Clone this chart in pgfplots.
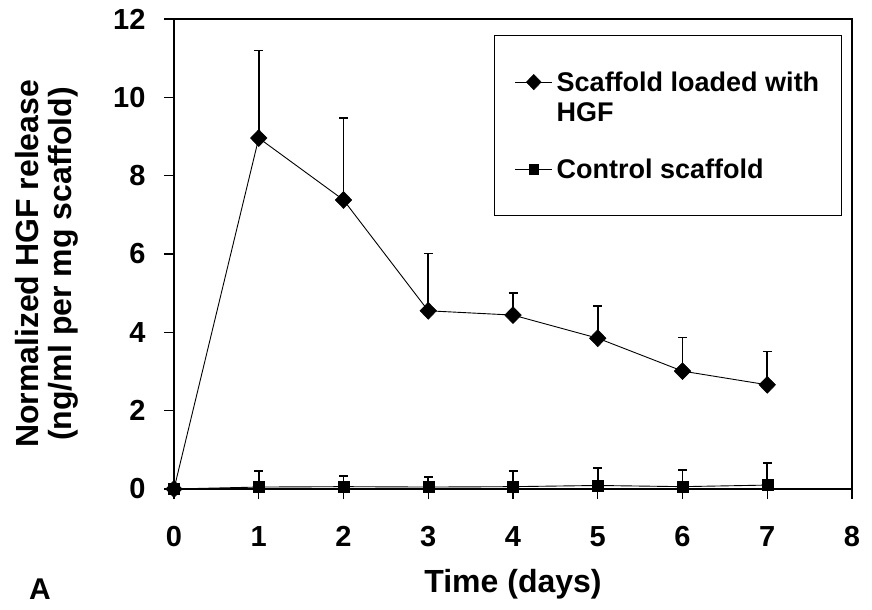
\documentclass[border=0pt]{standalone}
\usepackage{pgfplots}
\pgfplotsset{compat=1.18}
\usepackage{fontspec}
\setmainfont{Liberation Sans}
\pgfplotstableread{
x y e
0 0 0
1 8.96 2.24
2 7.38 2.09
3 4.55 1.46
4 4.44 0.57
5 3.85 0.82
6 3.01 0.86
7 2.66 0.85
}\scaffold
\pgfplotstableread{
x y e
0 0 0
1 0.05 0.41
2 0.06 0.27
3 0.05 0.25
4 0.06 0.40
5 0.09 0.44
6 0.06 0.42
7 0.10 0.56
}\control
\begin{document}
\begin{tikzpicture}
\begin{axis}[
  name=ax,
  scale only axis,
  width=678pt, height=470pt,
  xmin=0, xmax=8, ymin=0, ymax=12,
  xtick={0,1,...,8}, ytick={0,2,...,12},
  tick pos=left,
  tick align=outside,
  major tick length=10pt,
  tick style={line width=1.2pt, black},
  axis line style={line width=1.2pt, black},
  clip=false,
  /pgf/number format/assume math mode=true,
  tick label style={font=\fontsize{29}{34}\selectfont\bfseries},
  xticklabel shift=24pt,
  yticklabel shift=15pt,
  label style={font=\fontsize{32}{33}\selectfont\bfseries},
  xlabel={Time (days)},
  xlabel style={at={(axis description cs:0.5,-0.221)}, anchor=base},
  ylabel={Normalized HGF release\\(ng/ml per mg scaffold)},
  ylabel style={align=center, at={(axis description cs:-0.188,0.479)}, anchor=center},
  legend style={at={(axis description cs:0.985,0.966)}, anchor=north east,
    draw=black, line width=1.2pt,
    font=\fontsize{27}{30}\selectfont\bfseries,
    inner xsep=20pt, inner ysep=34pt,
    row sep=62pt, column sep=2pt,
    cells={anchor=west}},
  legend image code/.code={
    \draw[#1, mark repeat=2, mark phase=2, every mark/.append style={scale=0.9}]
      plot coordinates {(0pt,0pt)(18.5pt,0pt)(37pt,0pt)};
  },
]
\addplot[black, line width=0.9pt, mark=diamond*, mark size=8.5pt,
  mark options={solid, fill=black, xscale=1.3, line width=0.5pt},
  error bars/.cd, y dir=plus, y explicit,
  error bar style={line width=1.6pt, black},
  error mark options={rotate=90, black, mark size=4.5pt, line width=1.6pt}]
  table[x=x, y=y, y error=e] {\scaffold};
\addlegendentry{\rlap{\smash{\raisebox{-30pt}{HGF}}}Scaffold loaded with}
\addplot[black, line width=0.9pt, mark=square*, mark size=5.5pt,
  mark options={solid, fill=black, line width=0.5pt},
  error bars/.cd, y dir=plus, y explicit,
  error bar style={line width=1.6pt, black},
  error mark options={rotate=90, black, mark size=4.5pt, line width=1.6pt}]
  table[x=x, y=y, y error=e] {\control};
\addlegendentry{Control scaffold}
\end{axis}
\node[anchor=north west, inner sep=0pt, font=\fontsize{30}{30}\selectfont\bfseries]
  at ([shift={(-145pt,-90pt)}]ax.south west) {A};
\pgfresetboundingbox
\path[use as bounding box] ([shift={(-174pt,-120pt)}]ax.south west) rectangle ([shift={(20pt,19pt)}]ax.north east);
\end{tikzpicture}
\end{document}
